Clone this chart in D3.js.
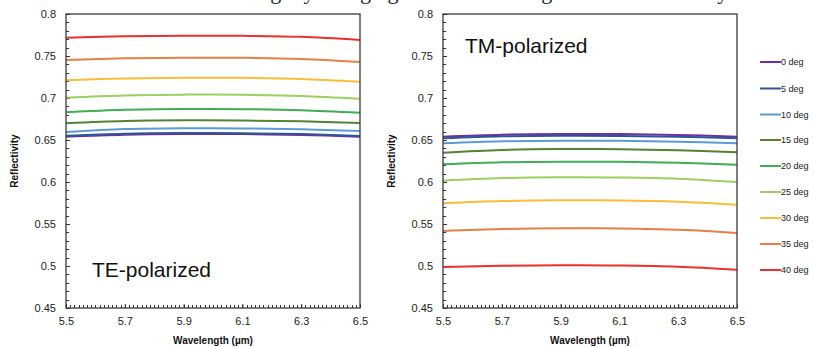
<!DOCTYPE html>
<html><head><meta charset="utf-8">
<script src="https://cdn.jsdelivr.net/npm/d3@7"></script>
<style>
body{margin:0;background:#fff;}
svg{display:block;font-family:"Liberation Sans",Arial,sans-serif;}
</style></head>
<body>
<svg id="chart" width="814" height="347"></svg>
<script>
// ---- data ----
const wavelengths = [5.5, 5.7, 5.9, 6.1, 6.3, 6.5];
const angles = ["0 deg","5 deg","10 deg","15 deg","20 deg","25 deg","30 deg","35 deg","40 deg"];
const colors = ["#7030a0","#2f5597","#5b9bd5","#548235","#3fae55","#9ccf5e","#fbbc3a","#e97f44","#ee2f2f"];
const xTicks = [5.5, 5.7, 5.9, 6.1, 6.3, 6.5];
const yTicks = [0.45, 0.5, 0.55, 0.6, 0.65, 0.7, 0.75, 0.8];

const te0  = [0.6540, 0.6563, 0.6571, 0.6570, 0.6560, 0.6540];
const te5  = [0.6551, 0.6575, 0.6583, 0.6581, 0.6570, 0.6548];
const te10 = [0.6595, 0.6630, 0.6640, 0.6638, 0.6627, 0.6607];
const te15 = [0.6699, 0.6725, 0.6734, 0.6732, 0.6722, 0.6702];
const te20 = [0.6830, 0.6860, 0.6869, 0.6867, 0.6855, 0.6825];
const te25 = [0.7004, 0.7030, 0.7040, 0.7038, 0.7025, 0.6992];
const te30 = [0.7211, 0.7233, 0.7242, 0.7240, 0.7227, 0.7194];
const te35 = [0.7452, 0.7472, 0.7480, 0.7478, 0.7465, 0.7429];
const te40 = [0.7718, 0.7735, 0.7742, 0.7740, 0.7728, 0.7690];

const tm0  = [0.6540, 0.6563, 0.6571, 0.6570, 0.6560, 0.6540];
const tm5  = [0.6520, 0.6544, 0.6551, 0.6549, 0.6540, 0.6520];
const tm10 = [0.6460, 0.6484, 0.6492, 0.6490, 0.6480, 0.6460];
const tm15 = [0.6349, 0.6382, 0.6393, 0.6391, 0.6378, 0.6353];
const tm20 = [0.6210, 0.6234, 0.6242, 0.6240, 0.6228, 0.6206];
const tm25 = [0.6016, 0.6047, 0.6056, 0.6054, 0.6040, 0.6000];
const tm30 = [0.5746, 0.5773, 0.5782, 0.5780, 0.5765, 0.5730];
const tm35 = [0.5417, 0.5440, 0.5449, 0.5447, 0.5432, 0.5393];
const tm40 = [0.4988, 0.5003, 0.5008, 0.5006, 0.4992, 0.4956];

const teSeries = [te0, te5, te10, te15, te20, te25, te30, te35, te40];
const tmSeries = [tm0, tm5, tm10, tm15, tm20, tm25, tm30, tm35, tm40];

// ---- drawing ----
const svg = d3.select("#chart");

// cropped caption line at the very top (from surrounding document, only its bottom edge is visible)
svg.append("text").attr("x", 2).attr("y", -1)
  .attr("font-family", "'Liberation Serif','Times New Roman',serif")
  .attr("font-size", 22).attr("fill", "#222")
  .attr("textLength", 730).attr("lengthAdjust", "spacing")
  .text("the resonance conditions are slightly changing with incident angle for the reflectivity.");

function panel(x0, x1, y0, y1, series, label, lx, ly) {
  const x = d3.scaleLinear().domain([5.5, 6.5]).range([x0, x1]);
  const y = d3.scaleLinear().domain([0.45, 0.8]).range([y1, y0]);
  const g = svg.append("g");

  // minor ticks (inside)
  const yMinor = d3.range(0, 36).map(i => 0.45 + i * 0.01);
  const xMinor = d3.range(0, 71).map(i => 5.5 + i / 70);
  g.append("g").selectAll("line").data(yMinor).join("line")
    .attr("x1", x0).attr("x2", x0 + 3)
    .attr("y1", d => Math.round(y(d)) + 0.5).attr("y2", d => Math.round(y(d)) + 0.5)
    .attr("stroke", "#333").attr("stroke-width", 1);
  g.append("g").selectAll("line").data(xMinor).join("line")
    .attr("y1", y1).attr("y2", y1 - 3)
    .attr("x1", d => Math.round(x(d)) + 0.5).attr("x2", d => Math.round(x(d)) + 0.5)
    .attr("stroke", "#333").attr("stroke-width", 1);

  // axes with inside major ticks
  const ya = g.append("g").attr("transform", `translate(${x0},0)`)
    .call(d3.axisLeft(y).tickValues(yTicks).tickSizeInner(-4).tickSizeOuter(0).tickPadding(10)
      .tickFormat(d => d3.format("")(+d.toFixed(2))));
  const xa = g.append("g").attr("transform", `translate(0,${y1})`)
    .call(d3.axisBottom(x).tickValues(xTicks).tickSizeInner(-4).tickSizeOuter(0).tickPadding(9)
      .tickFormat(d3.format(".1f")));
  [ya, xa].forEach(a => {
    a.select(".domain").remove();
    a.selectAll("line").attr("stroke", "#333");
    a.selectAll("text").attr("font-size", 11).attr("fill", "#222")
      .attr("font-family", "'Liberation Sans',Arial,sans-serif");
  });

  // lines
  const line = d3.line().x((d, i) => x(wavelengths[i])).y(d => y(d)).curve(d3.curveCatmullRom);
  series.forEach((s, k) => {
    g.append("path").attr("d", line(s)).attr("fill", "none")
      .attr("stroke", colors[k]).attr("stroke-width", 2);
  });

  // frame
  g.append("rect").attr("x", x0).attr("y", y0).attr("width", x1 - x0).attr("height", y1 - y0)
    .attr("fill", "none").attr("stroke", "#3a3a3a").attr("stroke-width", 1.3);

  // titles
  g.append("text").attr("x", (x0 + x1) / 2).attr("y", 344).attr("text-anchor", "middle")
    .attr("font-size", 10).attr("font-weight", "bold").attr("fill", "#111").text("Wavelength (µm)");
  g.append("text").attr("transform", `translate(${x0 - 48},${(y0 + y1) / 2}) rotate(-90)`)
    .attr("text-anchor", "middle").attr("font-size", 10).attr("font-weight", "bold").attr("fill", "#111")
    .text("Reflectivity");

  g.append("text").attr("x", lx).attr("y", ly).attr("font-size", 21).attr("fill", "#111").text(label);
}

panel(66, 360, 14, 308, teSeries, "TE-polarized", 92, 277);
panel(443, 737, 14, 308, tmSeries, "TM-polarized", 465, 53);

// legend
const legendY = [62, 88.5, 114.5, 140, 166, 192, 218, 244, 270];
const lg = svg.append("g");
angles.forEach((a, k) => {
  lg.append("line").attr("x1", 760).attr("x2", 781).attr("y1", legendY[k]).attr("y2", legendY[k])
    .attr("stroke", colors[k]).attr("stroke-width", 2);
  lg.append("text").attr("x", 781).attr("y", legendY[k] + 3.2).attr("font-size", 9)
    .attr("fill", "#222").text(a);
});
</script>
</body></html>
